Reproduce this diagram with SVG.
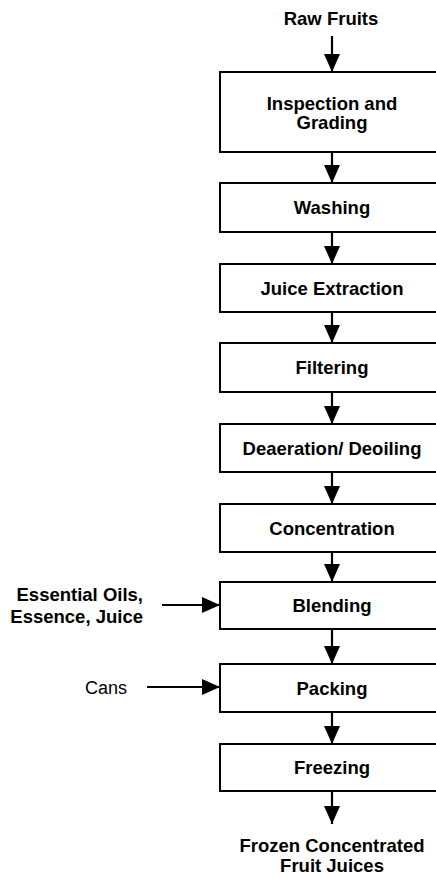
<svg xmlns="http://www.w3.org/2000/svg" width="436" height="876" viewBox="0 0 436 876">
<style>
.box{fill:#fff;stroke:#000;stroke-width:2}
.t{font-family:"Liberation Sans",Arial,sans-serif;font-size:18.5px;font-weight:bold;fill:#000;text-anchor:middle}
.r{font-family:"Liberation Sans",Arial,sans-serif;font-size:18px;fill:#000;text-anchor:end}
.b{font-family:"Liberation Sans",Arial,sans-serif;font-size:18.5px;font-weight:bold;fill:#000;text-anchor:end}
.c{stroke:#000;stroke-width:2.2;fill:none;marker-end:url(#ah)}
</style>
<defs>
<marker id="ah" markerUnits="userSpaceOnUse" markerWidth="18" markerHeight="16" viewBox="0 0 18 16" refX="18" refY="8" orient="auto">
<polygon points="0,0 18,8 0,16" fill="#000"/>
</marker>
</defs>
<rect x="0" y="0" width="436" height="876" fill="#fff"/>
<g id="connectors">
<line class="c" x1="332" y1="36" x2="332" y2="72"/>
<line class="c" x1="332" y1="152" x2="332" y2="183"/>
<line class="c" x1="332" y1="232" x2="332" y2="264"/>
<line class="c" x1="332" y1="312" x2="332" y2="343"/>
<line class="c" x1="332" y1="392" x2="332" y2="424"/>
<line class="c" x1="332" y1="472" x2="332" y2="504"/>
<line class="c" x1="332" y1="552" x2="332" y2="582"/>
<line class="c" x1="332" y1="629" x2="332" y2="664"/>
<line class="c" x1="332" y1="712" x2="332" y2="744"/>
<line class="c" x1="332" y1="791" x2="332" y2="824"/>
<line class="c" x1="162" y1="605" x2="220" y2="605"/>
<line class="c" x1="147" y1="687" x2="220" y2="687"/>
</g>
<g id="raw"><text class="t" x="331" y="25">Raw Fruits</text></g>
<g id="inspection"><rect class="box" x="220" y="72" width="225" height="80"/><text class="t" x="332" y="110">Inspection and</text><text class="t" x="332" y="129">Grading</text></g>
<g id="washing"><rect class="box" x="220" y="183" width="225" height="49"/><text class="t" x="332" y="214">Washing</text></g>
<g id="extraction"><rect class="box" x="220" y="264" width="225" height="48"/><text class="t" x="332" y="294.5">Juice Extraction</text></g>
<g id="filtering"><rect class="box" x="220" y="343" width="225" height="49"/><text class="t" x="332" y="374">Filtering</text></g>
<g id="deaeration"><rect class="box" x="220" y="424" width="225" height="48"/><text class="t" x="332" y="454.5">Deaeration/ Deoiling</text></g>
<g id="concentration"><rect class="box" x="220" y="504" width="225" height="48"/><text class="t" x="332" y="534.5">Concentration</text></g>
<g id="blending"><rect class="box" x="220" y="582" width="225" height="47"/><text class="t" x="332" y="612">Blending</text></g>
<g id="packing"><rect class="box" x="220" y="664" width="225" height="48"/><text class="t" x="332" y="694.5">Packing</text></g>
<g id="freezing"><rect class="box" x="220" y="744" width="225" height="47"/><text class="t" x="332" y="774">Freezing</text></g>
<g id="oils"><text class="b" x="143" y="601">Essential Oils,</text><text class="b" x="143" y="623">Essence, Juice</text></g>
<g id="cans"><text class="r" x="127" y="694">Cans</text></g>
<g id="product"><text class="t" x="332" y="852">Frozen Concentrated</text><text class="t" x="332" y="872">Fruit Juices</text></g>
</svg>
